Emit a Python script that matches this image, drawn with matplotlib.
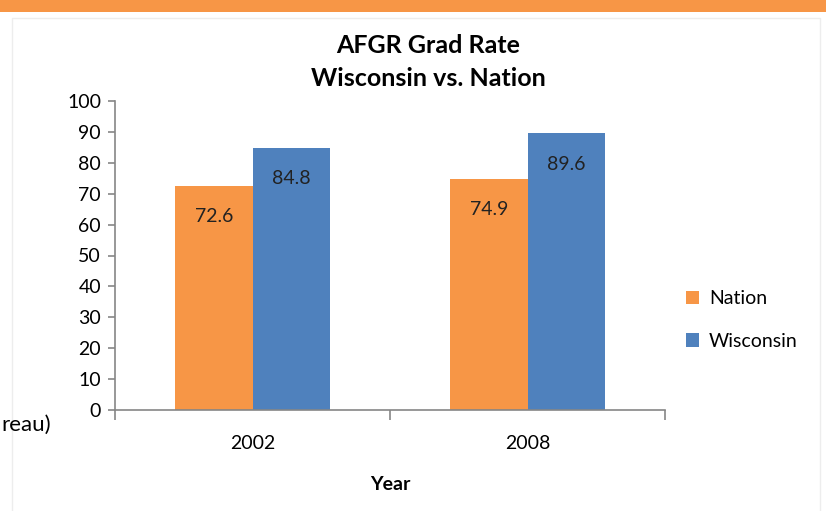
import numpy as np
import matplotlib.pyplot as plt
from matplotlib.patches import Rectangle

years = ['2002', '2008']
nation = [72.6, 74.9]
wisconsin = [84.8, 89.6]
yticks = list(range(0, 101, 10))

plt.rcParams['font.family'] = ['Lato', 'DejaVu Sans']

fig = plt.figure(figsize=(8.26, 5.11), dpi=100)
# orange band at top and faint frame
fig.patches.append(Rectangle((0, 1 - 12/511), 1, 12/511, transform=fig.transFigure,
                             facecolor='#F79646', edgecolor='none'))
fig.patches.append(Rectangle((12/826, -0.1), 808/826, 1 - 18/511 + 0.1, transform=fig.transFigure,
                             facecolor='none', edgecolor='#EDEDED', lw=1))

ax = fig.add_axes([115/826, 1 - 410/511, 550/826, 309/511])
x = np.arange(len(years))
w = 0.282
b1 = ax.bar(x - w/2, nation, w, color='#F79646', label='Nation')
b2 = ax.bar(x + w/2, wisconsin, w, color='#4F81BD', label='Wisconsin')

for bars, vals in [(b1, nation), (b2, wisconsin)]:
    for r, v in zip(bars, vals):
        ax.text(r.get_x() + r.get_width()/2, v - 10, f'{v}', ha='center', va='center',
                fontsize=14, color='#222222')

ax.set_xlim(-0.5, 1.5)
ax.set_ylim(0, 100)
ax.set_yticks(yticks)
ax.set_xticks(x)
ax.set_xticklabels(years)
ax.set_xticks([-0.5, 0.5, 1.5], minor=True)
ax.tick_params(axis='x', which='major', length=0, pad=18, labelsize=14)
ax.tick_params(axis='x', which='minor', length=7, color='#868686', width=1.2)
ax.tick_params(axis='y', length=5, color='#868686', width=1.2, labelsize=14, pad=5)
for s in ['top', 'right']:
    ax.spines[s].set_visible(False)
for s in ['left', 'bottom']:
    ax.spines[s].set_color('#868686')
    ax.spines[s].set_linewidth(1.2)

ax.set_xlabel('Year', fontsize=14, fontweight='bold', labelpad=17)
fig.text(428/826, 1 - 62/511, 'AFGR Grad Rate\nWisconsin vs. Nation', ha='center', va='center',
         fontsize=18, fontweight='bold', linespacing=1.55)
fig.text(1/826, 1 - 425/511, 'reau)', ha='left', va='center', fontsize=16)

ax.legend(loc='center left', bbox_to_anchor=(668/826, 1 - 320/511), bbox_transform=fig.transFigure,
          frameon=False, fontsize=14, handlelength=0.7, handleheight=0.7, labelspacing=1.3,
          handletextpad=0.5)

fig.savefig('out.png', dpi=100)
